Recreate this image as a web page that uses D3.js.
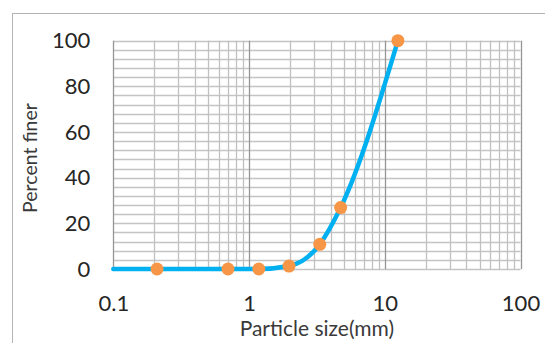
<!DOCTYPE html>
<html>
<head>
<meta charset="utf-8">
<script src="https://cdn.jsdelivr.net/npm/d3@7"></script>
<style>
  body { margin: 0; background: #fff; }
  svg { display: block; font-family: Lato, "Open Sans", sans-serif; }
</style>
</head>
<body>
<svg width="545" height="343"></svg>
<script>
// sieve results
const sizes = [0.21, 0.7, 1.18, 1.97, 3.32, 4.73, 12.5];
const percents = [0, 0, 0, 1.3, 10.8, 26.9, 100];

// the smooth curve starts at the left edge of the plot
const curveSizes = [0.1, 0.21, 0.7, 1.18, 1.97, 3.32, 4.73, 12.5];
const curvePercents = [0, 0, 0, 0, 1.3, 10.8, 26.9, 100];

const xTickValues = [0.1, 1, 10, 100];
const yTickValues = [0, 20, 40, 60, 80, 100];

const svg = d3.select('svg');

// outer chart border
svg.append('rect')
    .attr('x', 12.5)
    .attr('y', 13.5)
    .attr('width', 560)
    .attr('height', 360)
    .attr('fill', 'none')
    .attr('stroke', '#b4b4b4')
    .attr('stroke-width', 1);

const x = d3.scaleLog()
    .domain([0.1, 100])
    .range([113.3, 520.5]);

const y = d3.scaleLinear()
    .domain([0, 100])
    .range([269, 40.7]);

const g = svg.append('g');

// minor + major vertical grid lines
const vLines = [];
[0.1, 1, 10].forEach(d => {
    for (let k = 1; k <= 9; k++) vLines.push(+(k * d).toPrecision(3));
});
vLines.push(100);

// horizontal grid every 4 (Excel minor unit)
const hLines = d3.range(0, 101, 4);

g.selectAll('.hgrid')
    .data(hLines)
    .join('line')
    .attr('class', 'hgrid')
    .attr('x1', x(0.1))
    .attr('x2', x(100))
    .attr('y1', d => Math.round(y(d)) + 0.5)
    .attr('y2', d => Math.round(y(d)) + 0.5)
    .attr('stroke', '#c4c4c4')
    .attr('stroke-width', 1.3);

g.selectAll('.vgrid')
    .data(vLines)
    .join('line')
    .attr('class', 'vgrid')
    .attr('x1', d => Math.round(x(d)) + 0.5)
    .attr('x2', d => Math.round(x(d)) + 0.5)
    .attr('y1', y(100))
    .attr('y2', y(0))
    .attr('stroke', d => xTickValues.includes(d) ? '#969696' : '#c0c0c0')
    .attr('stroke-width', 1.3);

// axes: labels only
const xAxis = svg.append('g')
    .attr('transform', `translate(0,${y(0)})`)
    .call(d3.axisBottom(x)
        .tickValues(xTickValues)
        .tickFormat(d => String(d))
        .tickSize(0)
        .tickPadding(26));
xAxis.select('.domain').remove();
xAxis.selectAll('text')
    .attr('font-family', 'Lato, sans-serif')
    .attr('font-size', 22)
    .attr('fill', '#262626');

const yAxis = svg.append('g')
    .attr('transform', `translate(${x(0.1)},0)`)
    .call(d3.axisLeft(y)
        .tickValues(yTickValues)
        .tickSize(0)
        .tickPadding(23));
yAxis.select('.domain').remove();
yAxis.selectAll('text')
    .attr('font-family', 'Lato, sans-serif')
    .attr('font-size', 22)
    .attr('fill', '#262626');

// axis titles
svg.append('text')
    .attr('x', (x(0.1) + x(100)) / 2)
    .attr('y', 336)
    .attr('text-anchor', 'middle')
    .attr('font-size', 21)
    .attr('fill', '#3a3a3a')
    .text('Particle size(mm)');

svg.append('text')
    .attr('transform', 'translate(37,158) rotate(-90)')
    .attr('text-anchor', 'middle')
    .attr('font-size', 19.5)
    .attr('fill', '#3a3a3a')
    .text('Percent finer');

// gradation curve
const curveData = curveSizes.map((s, i) => [s, curvePercents[i]]);
const line = d3.line()
    .x(d => x(d[0]))
    .y(d => y(d[1]))
    .curve(d3.curveMonotoneX);

g.append('path')
    .datum(curveData)
    .attr('d', line)
    .attr('fill', 'none')
    .attr('stroke', '#00b0f0')
    .attr('stroke-width', 4.5)
    .attr('stroke-linecap', 'round');

// markers
g.selectAll('.pt')
    .data(sizes.map((s, i) => [s, percents[i]]))
    .join('circle')
    .attr('class', 'pt')
    .attr('cx', d => x(d[0]))
    .attr('cy', d => y(d[1]))
    .attr('r', 6.5)
    .attr('fill', '#f79646');
</script>
</body>
</html>
